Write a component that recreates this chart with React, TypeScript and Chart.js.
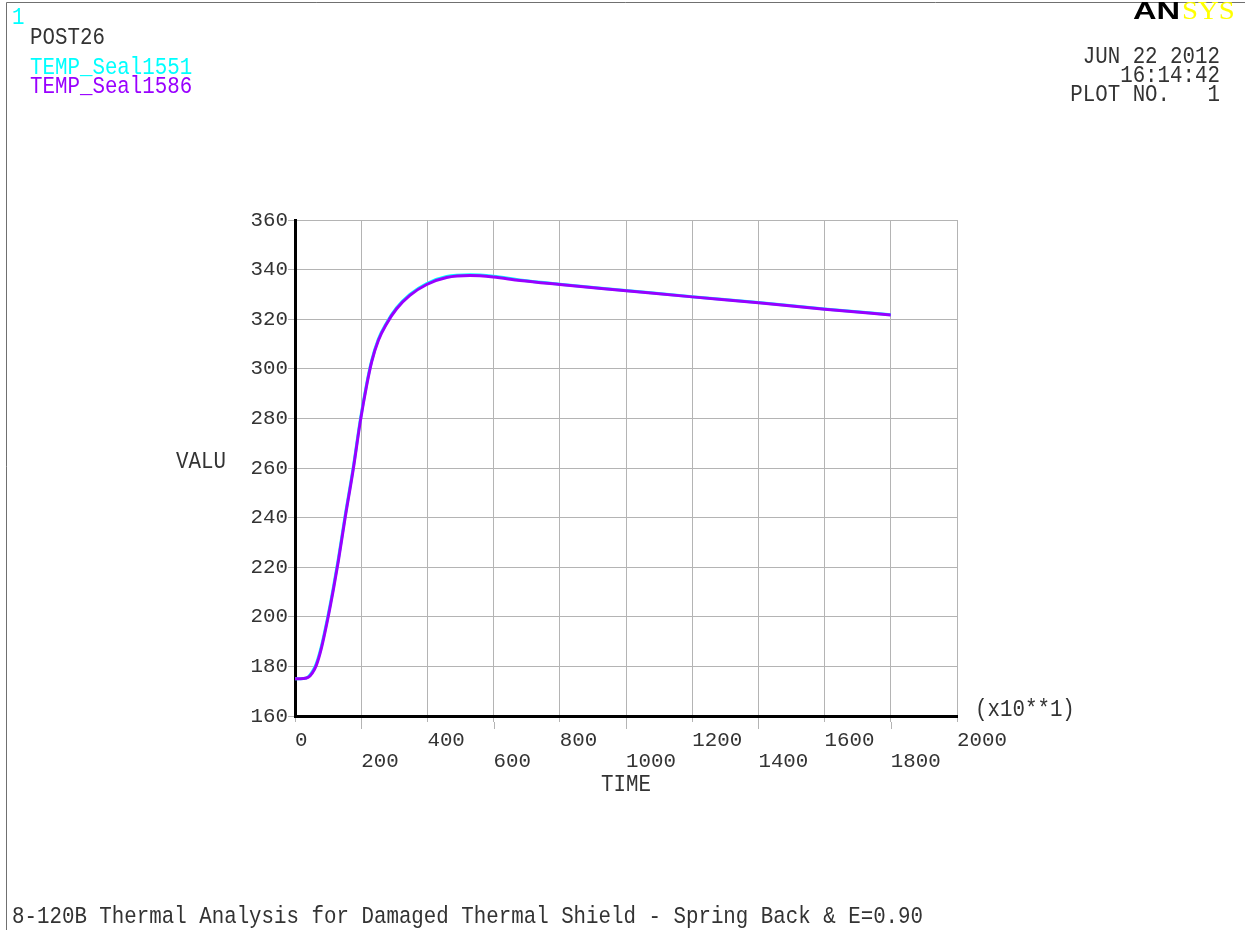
import React, { useEffect, useRef } from "react";
import { Chart, registerables } from "chart.js";

Chart.register(...registerables);

// time values (x10**1)
const timesSeal1586 = [0, 25, 40, 52, 64, 80, 98, 116, 131, 151, 176, 197, 216, 232, 252, 277, 307, 347, 398, 458, 529, 599, 680, 800, 1000, 1200, 1400, 1600, 1800];
const tempSeal1586 = [175, 175.1, 175.6, 177.3, 180.3, 187.5, 198.5, 211, 222.5, 239.5, 259.5, 278.5, 293, 303, 311.5, 318.2, 324.2, 329.6, 334.0, 336.8, 337.6, 337.0, 335.6, 334.0, 331.5, 329.0, 326.6, 324.0, 321.7];

const timesSeal1551 = [0, 25, 40, 52, 64, 80, 98, 116, 131, 151, 176, 197, 216, 232, 252, 277, 307, 347, 398, 458, 529, 599, 680, 800, 1000, 1200, 1400, 1600, 1800];
const tempSeal1551 = [175, 175.1, 175.8, 177.8, 181.0, 188.3, 199.3, 211.9, 223.4, 240.4, 260.3, 279.2, 293.6, 303.5, 312.0, 318.6, 324.6, 330.0, 334.4, 337.2, 337.9, 337.3, 335.8, 334.1, 331.6, 329.1, 326.7, 324.1, 321.8];

const seriesNames = ["TEMP_Seal1551", "TEMP_Seal1586"];
const seriesColors = ["#00ffff", "#9900ff"];

const xMin = 0;
const xMax = 2000;
const xStep = 200;
const yMin = 160;
const yMax = 360;
const yStep = 20;

const headerLeft = ["1", "POST26"];
const headerRight = ["JUN 22 2012", "16:14:42", "PLOT NO.   1"];
const xTitle = "TIME";
const yTitle = "VALU";
const xMultiplier = "(x10**1)";
const bottomTitle = "8-120B Thermal Analysis for Damaged Thermal Shield - Spring Back & E=0.90";

const MONO = '"Liberation Mono", "DejaVu Sans Mono", monospace';
const TEXT = "#333333";
const GRID = "#b4b4b4";

function drawText(
  ctx: CanvasRenderingContext2D,
  text: string,
  x: number,
  y: number,
  color: string,
  align: CanvasTextAlign = "left",
  sy = 1.15
) {
  ctx.save();
  ctx.translate(x, y);
  ctx.scale(1, sy);
  ctx.font = `20.8px ${MONO}`;
  ctx.textAlign = align;
  ctx.textBaseline = "alphabetic";
  ctx.fillStyle = color;
  ctx.fillText(text, 0, 0);
  ctx.restore();
}

const decorPlugin = {
  id: "ansysDecor",
  beforeDraw(chart: any) {
    const ctx = chart.ctx as CanvasRenderingContext2D;
    ctx.save();
    ctx.fillStyle = "#ffffff";
    ctx.fillRect(0, 0, chart.width, chart.height);
    ctx.restore();
  },
  beforeDatasetsDraw(chart: any) {
    const ctx = chart.ctx as CanvasRenderingContext2D;
    const xs = chart.scales.x;
    const area = chart.chartArea;
    ctx.save();
    ctx.strokeStyle = GRID;
    ctx.lineWidth = 1;
    xs.ticks.forEach((t: any, i: number) => {
      if (i % 2 === 1) {
        const px = Math.round(xs.getPixelForValue(t.value)) + 0.5;
        ctx.beginPath();
        ctx.moveTo(px, area.bottom + 6);
        ctx.lineTo(px, area.bottom + 13);
        ctx.stroke();
      }
    });
    ctx.restore();
  },
  afterDraw(chart: any) {
    const ctx = chart.ctx as CanvasRenderingContext2D;
    const area = chart.chartArea;
    // frame
    ctx.save();
    ctx.strokeStyle = "#707070";
    ctx.lineWidth = 1;
    ctx.beginPath();
    ctx.moveTo(6.5, chart.height);
    ctx.lineTo(6.5, 2.5);
    ctx.lineTo(chart.width, 2.5);
    ctx.stroke();
    ctx.restore();

    // header left
    drawText(ctx, headerLeft[0], 12, 24, "#00ffff");
    drawText(ctx, headerLeft[1], 30, 44, TEXT);
    drawText(ctx, seriesNames[0], 30, 74, seriesColors[0]);
    drawText(ctx, seriesNames[1], 30, 93, seriesColors[1]);

    // header right
    drawText(ctx, headerRight[0], 1220, 63, TEXT, "right");
    drawText(ctx, headerRight[1], 1220, 82, TEXT, "right");
    drawText(ctx, headerRight[2], 1220, 101, TEXT, "right");

    // ANSYS logo
    ctx.save();
    ctx.translate(1133, 19);
    ctx.scale(1.42, 1);
    ctx.font = `900 23px "Liberation Sans", Arial, sans-serif`;
    ctx.fillStyle = "#000000";
    ctx.textBaseline = "alphabetic";
    ctx.fillText("AN", 0, 0);
    ctx.restore();
    ctx.save();
    ctx.translate(1182, 19);
    ctx.scale(1.15, 1);
    ctx.font = `25px "Liberation Serif", serif`;
    ctx.fillStyle = "#ffff00";
    ctx.textBaseline = "alphabetic";
    ctx.fillText("SYS", 0, 0);
    ctx.restore();

    // axis titles
    drawText(ctx, yTitle, 176, 468, TEXT);
    drawText(ctx, xTitle, (area.left + area.right) / 2, 791, TEXT, "center");
    drawText(ctx, xMultiplier, area.right + 18, 716, TEXT);

    // bottom title
    drawText(ctx, bottomTitle, 12, 923, TEXT);
  },
};

export default function App() {
  const ref = useRef<HTMLCanvasElement | null>(null);

  useEffect(() => {
    if (!ref.current) return;
    const chart = new Chart(ref.current, {
      type: "line",
      data: {
        datasets: [
          {
            label: seriesNames[0],
            data: timesSeal1551.map((t, i) => ({ x: t, y: tempSeal1551[i] })),
            borderColor: seriesColors[0],
            backgroundColor: seriesColors[0],
            borderWidth: 3,
            pointRadius: 0,
            cubicInterpolationMode: "monotone",
            order: 1,
          },
          {
            label: seriesNames[1],
            data: timesSeal1586.map((t, i) => ({ x: t, y: tempSeal1586[i] })),
            borderColor: seriesColors[1],
            backgroundColor: seriesColors[1],
            borderWidth: 3,
            pointRadius: 0,
            cubicInterpolationMode: "monotone",
            order: 0,
          },
        ],
      },
      options: {
        responsive: false,
        animation: false,
        devicePixelRatio: 1,
        layout: { padding: { left: 0, top: 220, right: 288, bottom: 154 } },
        plugins: {
          legend: { display: false },
          tooltip: { enabled: false },
          title: { display: false },
        },
        scales: {
          x: {
            type: "linear",
            min: xMin,
            max: xMax,
            afterFit: (s: any) => {
              s.height = 60;
            },
            ticks: {
              stepSize: xStep,
              align: "start",
              maxRotation: 0,
              minRotation: 0,
              autoSkip: false,
              padding: 8,
              color: TEXT,
              font: { family: MONO, size: 20.8, lineHeight: 1.0 },
              callback: (value: any, index: number) =>
                index % 2 === 0 ? [String(value)] : ["", String(value)],
            },
            grid: {
              color: GRID,
              tickColor: GRID,
              lineWidth: 1,
              tickLength: 6,
              drawTicks: true,
            },
            border: { display: true, color: "#000000", width: 3 },
          },
          y: {
            type: "linear",
            min: yMin,
            max: yMax,
            afterFit: (s: any) => {
              s.width = 295;
            },
            ticks: {
              stepSize: yStep,
              padding: 0,
              color: TEXT,
              font: { family: MONO, size: 20.8, lineHeight: 1.0 },
            },
            grid: {
              color: GRID,
              tickColor: GRID,
              lineWidth: 1,
              tickLength: 7,
              drawTicks: true,
            },
            border: { display: true, color: "#000000", width: 3 },
          },
        },
      },
      plugins: [decorPlugin],
    });
    return () => chart.destroy();
  }, []);

  return (
    <div style={{ position: "fixed", left: 0, top: 0, width: 1245, height: 930, background: "#fff" }}>
      <canvas ref={ref} width={1245} height={930} style={{ display: "block", width: 1245, height: 930 }} />
    </div>
  );
}
